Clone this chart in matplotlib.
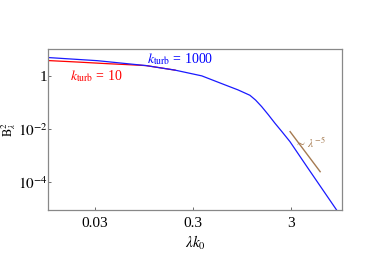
import matplotlib
matplotlib.use("Agg")
import matplotlib.pyplot as plt
from matplotlib.ticker import FixedLocator, NullLocator

plt.rcParams['font.family'] = ['Liberation Serif', 'DejaVu Serif']
plt.rcParams['mathtext.fontset'] = 'stix'

# spectrum for k_turb = 1000 (blue)
lam_1000 = [0.01, 0.0316, 0.1, 0.198, 0.371, 0.641, 0.871, 1.153, 1.318,
            1.52, 1.778, 2.08, 2.455, 2.96, 4.47, 8.89, 10.0]
b2_1000 = [4.75, 3.63, 2.37, 1.60, 0.975, 0.447, 0.29, 0.182, 0.12,
           0.0684, 0.0339, 0.0162, 0.00776, 0.00331, 3.55e-4, 8.9e-6, 4.7e-6]

# spectrum for k_turb = 10 (red), hidden under blue past ~0.1
lam_10 = [0.01, 0.02, 0.04, 0.06, 0.1, 0.198]
b2_10 = [3.66, 3.22, 2.80, 2.61, 2.37, 1.60]

# power-law guide ~ lambda^-5
lam_guide = [2.97, 6.03]
b2_guide = [7.85e-3, 2.46e-4]

xticks = [0.03, 0.3, 3]
xtick_labels = ['0.03', '0.3', '3']
yticks = [1, 1e-2, 1e-4]
ytick_labels = ['1', '$10^{-2}$', '$10^{-4}$']

fig = plt.figure(figsize=(3.9, 2.59), dpi=100)
ax = fig.add_axes([0.124, 0.189, 0.752, 0.622])

ax.plot(lam_10, b2_10, color='red', lw=0.9)
ax.plot(lam_1000, b2_1000, color='#1a1aff', lw=0.9)
ax.plot(lam_guide, b2_guide, color='#a57a50', lw=1.0)

ax.set_xscale('log')
ax.set_yscale('log')
ax.set_xlim(0.01, 10)
ax.set_ylim(10**-5.05, 10)

ax.xaxis.set_major_locator(FixedLocator(xticks))
ax.set_xticklabels(xtick_labels)
ax.xaxis.set_minor_locator(NullLocator())
ax.yaxis.set_major_locator(FixedLocator(yticks))
ax.set_yticklabels(ytick_labels)
ax.yaxis.set_minor_locator(NullLocator())
ax.tick_params(direction='in', length=2, width=0.6, color='#555555',
               labelsize=11)
ax.tick_params(axis='x', pad=5)
ax.tick_params(axis='y', pad=0.5)

for s in ax.spines.values():
    s.set_color('#888888')
    s.set_linewidth(0.9)

ax.set_xlabel(r'$\lambda k_0$', fontsize=11, labelpad=3)
ax.set_ylabel(r'$\mathrm{B}^2_{\lambda}$', fontsize=9)
ax.yaxis.set_label_coords(-0.102, 0.5)

ax.text(0.0167, 0.95, r'$k_{\rm turb}$ = 10', color='red', fontsize=10,
        ha='left', va='center')
ax.text(0.103, 4.3, r'$k_{\rm turb}$ = 1000', color='blue', fontsize=10,
        ha='left', va='center')
ax.text(3.3, 2.95e-3, r'$\sim\,\lambda^{-5}$', color='#a57a50', fontsize=8.5,
        ha='left', va='center')

fig.savefig('out.png', dpi=100)
